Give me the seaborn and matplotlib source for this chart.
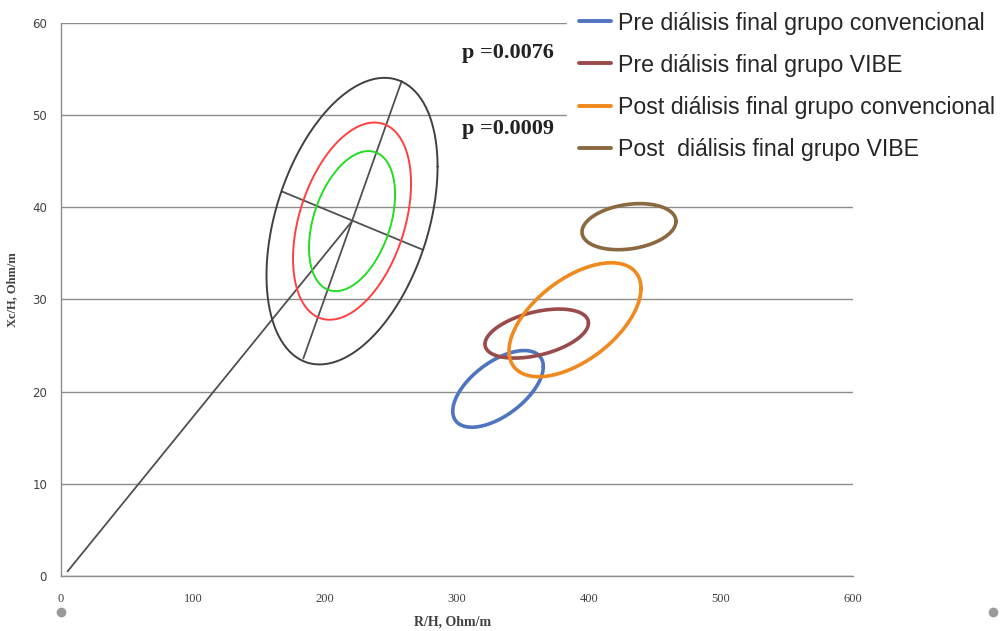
import numpy as np
import pandas as pd
import seaborn as sns
import matplotlib.pyplot as plt
from matplotlib.lines import Line2D

# Colored tolerance ellipses: mean R/H, mean Xc/H, half-range x, half-range y, correlation
groups = [
    "Pre diálisis final grupo convencional",
    "Pre diálisis final grupo VIBE",
    "Post diálisis final grupo convencional",
    "Post  diálisis final grupo VIBE",
]
center_x = [331.1, 360.4, 389.4, 430.3]
center_y = [20.3, 26.3, 27.8, 37.9]
radius_x = [34.3, 39.2, 50.0, 35.6]
radius_y = [4.16, 2.66, 6.18, 2.5]
corr_r = [0.58, 0.43, 0.55, 0.23]
group_colors = ["#4F74C0", "#9A4A4A", "#F0891E", "#8A6840"]

# Reference population ellipses (50%, 75%, 95%)
ref_center = (220.5, 38.5)
ref_radius_x = [32.6, 44.7, 64.8]
ref_radius_y = [7.6, 10.7, 15.55]
ref_corr = 0.38
ref_colors = ["#22DD22", "#FF4040", "#404040"]

# Lines: from origin to the reference mean, and the axes of the 95% ellipse
origin_line_x = [5, 220.5]
origin_line_y = [0.5, 38.5]
major_axis_x = [183.6, 258.1]
major_axis_y = [23.6, 53.7]
minor_axis_x = [167.7, 274.0]
minor_axis_y = [41.7, 35.4]

p_values = ["p =0.0076", "p =0.0009"]
p_pos_y = [56.7, 48.5]


def ellipse_points(cx, cy, rx, ry, r, n=240):
    t = np.linspace(0, 2 * np.pi, n)
    phi = np.arccos(r)
    return cx + rx * np.cos(t), cy + ry * np.cos(t - phi)


rows = []
for g, cx, cy, rx, ry, r in zip(groups, center_x, center_y, radius_x, radius_y, corr_r):
    xs, ys = ellipse_points(cx, cy, rx, ry, r)
    rows.append(pd.DataFrame({"R": xs, "Xc": ys, "grupo": g}))
df = pd.concat(rows, ignore_index=True)

sns.set_style("white")
fig = plt.figure(figsize=(10.06, 6.31), dpi=100)
ax = fig.add_axes([0.0606, 0.0872, 0.7873, 0.8764])

ax.set_xlim(0, 600)
ax.set_ylim(0, 60)
ax.set_xticks(range(0, 601, 100))
ax.set_yticks(range(0, 61, 10))
ax.grid(axis="y", color="#8C8C8C", linewidth=1)
ax.set_axisbelow(True)
for side in ["top", "right"]:
    ax.spines[side].set_visible(False)
for side in ["left", "bottom"]:
    ax.spines[side].set_color("#8C8C8C")
    ax.spines[side].set_linewidth(1)
ax.tick_params(length=0)
ax.tick_params(axis="y", pad=10, labelsize=8.5, labelcolor="#404040")
ax.tick_params(axis="x", pad=12, labelsize=9, labelcolor="#404040")
for lab in ax.get_xticklabels():
    lab.set_family("Liberation Serif")

# reference lines
for lx, ly in [(origin_line_x, origin_line_y), (major_axis_x, major_axis_y),
               (minor_axis_x, minor_axis_y)]:
    ax.plot(lx, ly, color="#505050", linewidth=1.3)

for rx, ry, c in zip(ref_radius_x, ref_radius_y, ref_colors):
    xs, ys = ellipse_points(ref_center[0], ref_center[1], rx, ry, ref_corr)
    ax.plot(xs, ys, color=c, linewidth=1.4)

sns.lineplot(data=df, x="R", y="Xc", hue="grupo", palette=group_colors,
             sort=False, estimator=None, linewidth=2.6, ax=ax, legend=False)

for txt, py in zip(p_values, p_pos_y):
    ax.text(303.8, py, txt, fontsize=16, fontweight="bold",
            family="Liberation Serif", color="#222222", va="center", ha="left")

ax.set_xlabel("R/H, Ohm/m", family="Liberation Serif", fontweight="bold",
              fontsize=10, color="#404040")
ax.set_ylabel("Xc/H, Ohm/m", family="Liberation Serif", fontweight="bold",
              fontsize=9, color="#404040")
ax.xaxis.label.set_va("center")
ax.xaxis.set_label_coords(0.494, -0.083)
ax.yaxis.set_label_coords(-0.054, 0.517)

handles = [Line2D([], [], color=c, linewidth=2.8) for c in group_colors]
fig.legend(handles, groups, loc="upper left", bbox_to_anchor=(567 / 1006, 1.0),
           frameon=True, facecolor="white", edgecolor="white", framealpha=1,
           handlelength=1.4, handletextpad=0.3, labelspacing=0.82,
           borderpad=0.5, borderaxespad=0,
           prop={"family": "Liberation Sans", "size": 16.7})

# grey chart handles at the bottom corners
for fx in [0.0606, 0.987]:
    fig.add_artist(Line2D([fx], [0.030], marker="o", markersize=6,
                          color="#9A9A9A", transform=fig.transFigure))

fig.savefig("out.png", dpi=100)
